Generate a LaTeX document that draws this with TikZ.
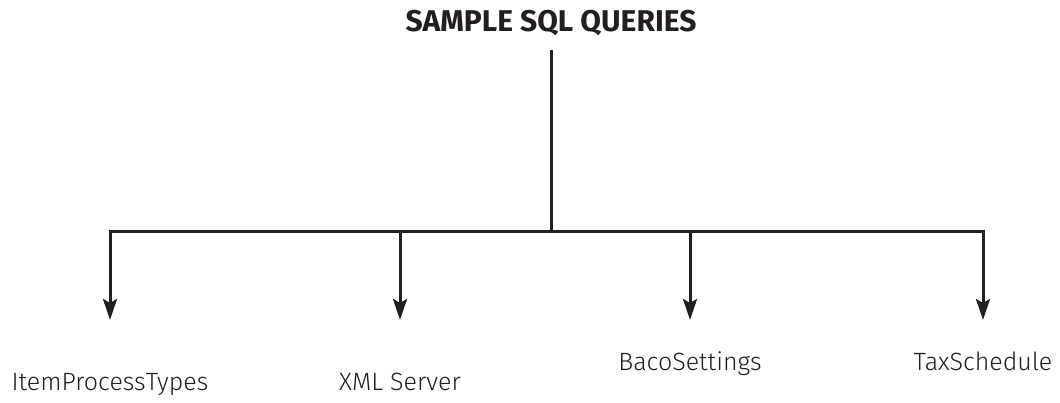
\documentclass[tikz,border=0pt]{standalone}
\usepackage{fontspec}
\setmainfont{Fira Sans}
\newfontfamily\lightsans{Fira Sans Light}
\usepackage{tikz}
\usetikzlibrary{arrows.meta}

\definecolor{ink}{HTML}{231F20}

\begin{document}
\begin{tikzpicture}[x=1pt,y=-1pt]
\useasboundingbox (0,0) rectangle (1060,403);
\tikzset{
  wire/.style={draw=ink, line width=3pt, line cap=rect},
  drop/.style={draw=ink, line width=3pt, -{Stealth[length=21pt,width=14pt,inset=4pt]}},
  leaf/.style={text=ink, font=\lightsans\fontsize{25}{30}\selectfont, inner sep=0pt, anchor=base},
}
\node[text=ink, font=\bfseries\fontsize{30}{36}\selectfont, inner sep=0pt, anchor=base] (root) at (551,32) {SAMPLE SQL QUERIES};
\coordinate (stem) at (551,52);
\coordinate (hub) at (551,232);
\draw[wire] (stem) -- (hub);
% the four query groups hanging off the bus
\foreach \x/\n/\yl/\lab in {110/ipt/390/ItemProcessTypes, 400/xml/390/XML Server,
                            690/baco/370/BacoSettings, 983/tax/370/TaxSchedule} {
  \node[leaf] (\n) at (\x,\yl) {\lab};
  \coordinate (\n-top) at (\x,232);
  \coordinate (\n-tip) at (\x,320);
  \draw[drop] (\n-top) -- (\n-tip);
}
\draw[wire] (ipt-top) -- (tax-top);
\end{tikzpicture}
\end{document}
